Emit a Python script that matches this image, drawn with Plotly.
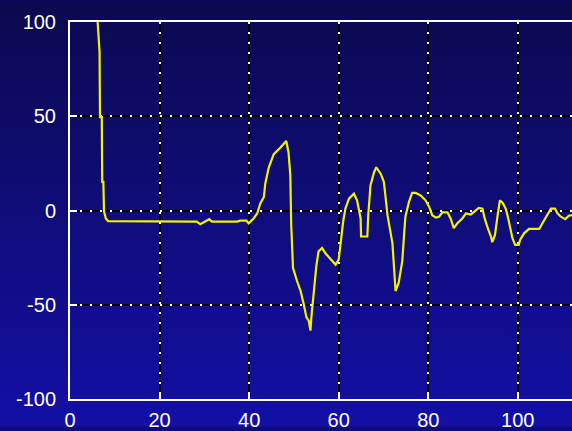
import base64
import plotly.graph_objects as go

# ---- data ----
x_vals = [5.9, 6.5, 6.6, 6.7, 7.1, 7.2, 7.45, 7.6, 8.0, 8.5, 15, 22, 28.3, 29.1, 30.0, 31.1, 31.7,
          35.8, 37.3, 38.0, 39.4, 39.9, 41.0, 41.8, 42.5, 43.3, 43.6, 44.4, 45.5, 47.0, 48.3,
          48.8, 49.2, 49.4, 49.8, 50.7, 51.5, 52.2, 52.8, 53.3, 53.7, 53.9, 54.4, 55.0, 55.5,
          56.3, 57.0, 58.2, 59.3, 60.0, 60.4, 61.0, 61.5, 62.3, 63.4, 64.1, 64.9, 65.0, 66.4,
          66.6, 67.1, 67.9, 68.4, 69.4, 70.1, 70.5, 70.9, 72.0, 72.3, 72.7, 73.4, 73.8, 74.2,
          74.6, 74.9, 75.7, 76.4, 77.2, 78.3, 79.4, 80.2, 80.9, 81.7, 82.4, 83.2, 84.3, 85.0,
          85.7, 86.5, 87.6, 88.4, 89.5, 90.6, 91.3, 92.1, 92.6, 93.3, 94.0, 94.3, 94.9, 95.5,
          96.0, 96.6, 97.3, 97.7, 98.3, 98.8, 99.4, 100.2, 100.5, 101.4, 102.5, 104.8, 105.5,
          106.5, 107.4, 108.3, 108.9, 109.6, 110.6, 111.4, 112.3, 113.0]
y_vals = [110, 84.1, 84.1, 49.5, 49.5, 15.2, 15.2, -0.5, -4.2, -5.6, -5.6, -5.8, -5.9, -7.3, -6.0, -4.6, -5.9,
          -5.9, -5.9, -5.4, -5.4, -6.8, -4.2, -1.6, 3.7, 7.2, 14.2, 22.9, 29.9, 33.4, 36.9,
          30.8, 18.5, -7.7, -30.4, -37.4, -42.7, -49.7, -56.7, -58.4, -63.7, -56.7, -42.7, -29.6, -21.7,
          -19.9, -22.6, -26.1, -28.7, -26.1, -16.4, -5.9, 1.0, 6.3, 8.9, 5.4, -4.2, -13.8, -13.8,
          -2.5, 13.3, 20.3, 22.9, 19.4, 15.1, 6.3, -2.5, -17.3, -30.4, -42.7, -38.3, -32.2, -26.9,
          -13.0, -3.3, 4.6, 9.3, 9.3, 8.0, 5.4, 1.9, -2.5, -3.8, -3.3, -1.0, -1.0, -4.2,
          -9.4, -6.8, -4.2, -1.6, -2.1, 0.2, 1.4, 1.0, -4.2, -9.4, -13.8, -16.8, -13.0, -2.5,
          5.4, 4.2, 1.0, -2.5, -8.6, -14.7, -18.2, -18.2, -15.6, -12.1, -9.8, -9.8, -6.8,
          -2.5, 1.0, 1.0, -1.6, -3.3, -4.6, -2.8, -2.1, -2.0]

x_ticks = [0, 20, 40, 60, 80, 100]
y_ticks = [-100, -50, 0, 50, 100]
x_range = [0, 112.1]
y_range = [-100, 100]

# ---- styling ----
W, H = 572, 431
ML, MR, MT, MB = 70, 0, 22, 28
FONT = dict(family="Liberation Sans, Arial, sans-serif", size=20, color="white")

svg = (f'<svg xmlns="http://www.w3.org/2000/svg" width="{W}" height="{H}" preserveAspectRatio="none">'
       '<defs><linearGradient id="g" x1="0" y1="0" x2="0" y2="1">'
       '<stop offset="0" stop-color="#0b0a4e"/><stop offset="1" stop-color="#140fa6"/>'
       '</linearGradient></defs>'
       f'<rect width="{W}" height="{H}" fill="url(#g)"/></svg>')
src = "data:image/svg+xml;base64," + base64.b64encode(svg.encode()).decode()

pw = W - ML - MR
ph = H - MT - MB

fig = go.Figure()
fig.add_trace(go.Scatter(x=x_vals, y=y_vals, mode="lines",
                         line=dict(color="#f2f200", width=2.2), hoverinfo="skip",
                         xaxis="x", yaxis="y"))
# empty trace to register the overlay subplot carrying the white dotted grid
fig.add_trace(go.Scatter(x=[], y=[], xaxis="x2", yaxis="y2", showlegend=False))

common = dict(zeroline=False, fixedrange=True)
fig.update_layout(
    width=W, height=H,
    margin=dict(l=ML, r=MR, t=MT, b=MB, pad=0),
    paper_bgcolor="#0f0c7a",
    plot_bgcolor="rgba(0,0,0,0)",
    showlegend=False,
    font=FONT,
    images=[dict(source=src, xref="paper", yref="paper",
                 x=-ML / pw, y=1 + MT / ph, sizex=W / pw, sizey=H / ph,
                 xanchor="left", yanchor="top", sizing="stretch", layer="below")],
    xaxis=dict(range=x_range, tickvals=x_ticks, ticktext=[str(v) for v in x_ticks],
               showgrid=True, gridcolor="black", gridwidth=2,
               showline=True, linecolor="white", linewidth=2, mirror=True,
               ticks="inside", ticklen=7, tickwidth=2, tickcolor="white",
               tickfont=FONT, ticklabelstandoff=2, **common),
    yaxis=dict(range=y_range, tickvals=y_ticks, ticktext=[str(v) for v in y_ticks],
               showgrid=True, gridcolor="black", gridwidth=2,
               showline=True, linecolor="white", linewidth=2, mirror=False,
               ticks="inside", ticklen=7, tickwidth=2, tickcolor="white",
               tickfont=FONT, ticklabelstandoff=8, **common),
    xaxis2=dict(range=x_range, tickvals=x_ticks, overlaying="x", anchor="y2",
                showgrid=True, gridcolor="white", gridwidth=2, griddash="2px,8px",
                showticklabels=False, ticks="", showline=False, **common),
    yaxis2=dict(range=y_range, tickvals=y_ticks, overlaying="y", anchor="x2",
                showgrid=True, gridcolor="white", gridwidth=2, griddash="2px,8px",
                showticklabels=False, ticks="", showline=False, **common),
)

fig.write_html("out.html", config={"displayModeBar": False},
               post_script="document.body.style.margin='0';document.body.style.overflow='hidden';")
